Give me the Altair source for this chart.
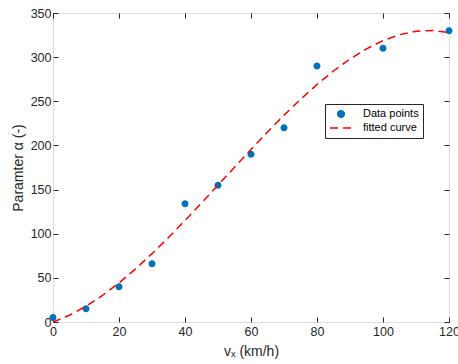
import altair as alt
import pandas as pd

# Data points
speed = [0, 10, 20, 30, 40, 50, 60, 70, 80, 100, 120]
alpha = [5, 15, 40, 66, 134, 155, 190, 220, 290, 310, 330]

# Fitted curve
fit_speed = [0, 5, 10, 15, 20, 25, 30, 35, 40, 45, 50, 55, 60, 65, 70, 75, 80,
             85, 90, 95, 100, 105, 110, 115, 120]
fit_alpha = [0, 7.7, 17.8, 30.1, 44.2, 60.1, 77.4, 95.7, 115, 134.9, 155.1, 175.3,
             195.5, 215.2, 234.2, 252.2, 269, 284.3, 297.9, 309.4, 318.7, 325.4,
             329.4, 330.2, 327.9]

series_names = ["Data points", "fitted curve"]
x_ticks = [0, 20, 40, 60, 80, 100, 120]
y_ticks = [0, 50, 100, 150, 200, 250, 300, 350]

pts = pd.DataFrame({"v": speed, "a": alpha, "series": series_names[0]})
fit = pd.DataFrame({"v": fit_speed, "a": fit_alpha, "series": series_names[1]})

FONT = "Liberation Sans"
INK = "#262626"
DOT = "M0,-0.3A0.3,0.3,0,1,1,0,0.3A0.3,0.3,0,1,1,0,-0.3Z"
PAD = "\u2003\u2002"

xs = alt.Scale(domain=[0, 120], nice=False, zero=False)
ys = alt.Scale(domain=[0, 350], nice=False)

legend = alt.Legend(
    title=None, orient="none", legendX=272, legendY=91,
    strokeColor=INK, fillColor="white", padding=4,
    labelFont=FONT, labelFontSize=11, labelColor="black",
    labelOffset=10, clipHeight=12,
    labelExpr="datum.label + '" + PAD + "'",
    symbolSize=484, rowPadding=2, symbolStrokeWidth=1.5,
)
color = alt.Color("series:N",
                  scale=alt.Scale(domain=series_names, range=["#0072BD", "#FF0000"]),
                  legend=legend)
shape = alt.Shape("series:N",
                  scale=alt.Scale(domain=series_names, range=[DOT, "stroke"]),
                  legend=legend)
dash = alt.StrokeDash("series:N",
                      scale=alt.Scale(domain=series_names, range=[[1, 0], [8, 5]]),
                      legend=legend)

axis_common = dict(tickSize=5, offset=-5, domain=False, grid=False, labelFlush=False,
                   labelOverlap=False,
                   tickColor=INK, labelColor=INK, labelFont=FONT, labelFontSize=12.5,
                   titleFont=FONT, titleFontSize=14, titleColor=INK, titleFontWeight="normal")

x_bottom = alt.Axis(values=x_ticks, labelPadding=3, title="vₓ (km/h)", titlePadding=7,
                    **axis_common)
y_left = alt.Axis(values=y_ticks, labelPadding=2, title="Paramter α (-)", titlePadding=5,
                  **axis_common)
x_top = alt.Axis(values=x_ticks, orient="top", labels=False, title=None, **axis_common)
y_right = alt.Axis(values=y_ticks, orient="right", labels=False, title=None, **axis_common)

points = alt.Chart(pts).mark_point(filled=True, size=544, opacity=1).encode(
    x=alt.X("v:Q", scale=xs, axis=x_bottom),
    y=alt.Y("a:Q", scale=ys, axis=y_left),
    color=color,
    shape=shape,
)

line = alt.Chart(fit).mark_line(strokeWidth=1.5).encode(
    x=alt.X("v:Q", scale=xs, axis=x_top),
    y=alt.Y("a:Q", scale=ys, axis=y_right),
    color=color,
    strokeDash=dash,
)

chart = alt.layer(points, line).resolve_axis(x="independent", y="independent").properties(
    width=396, height=309,
    autosize=alt.AutoSizeParams(type="none"),
    padding={"left": 53, "top": 13, "right": 9, "bottom": 42},
).configure_view(stroke=INK, strokeWidth=1).configure(background="white")

chart.save("out.html", embed_options={"renderer": "svg", "actions": False})
